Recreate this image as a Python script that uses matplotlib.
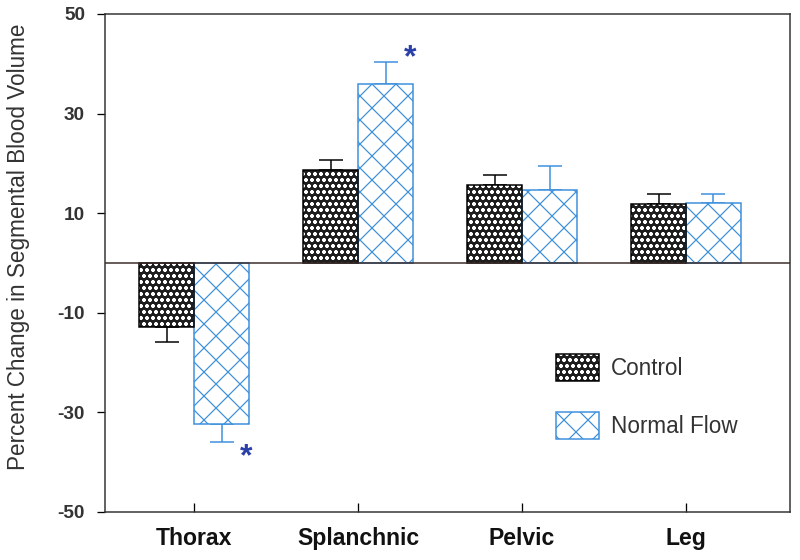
import numpy as np
import matplotlib
matplotlib.use('Agg')
import matplotlib.pyplot as plt

plt.rcParams['font.family'] = ['Liberation Sans', 'DejaVu Sans']
plt.rcParams['hatch.linewidth'] = 1.2
plt.rcParams['axes.unicode_minus'] = False

# data
segments = ['Thorax', 'Splanchnic', 'Pelvic', 'Leg']
control_mean = [-12.8, 18.7, 15.7, 11.8]
control_err = [3.1, 1.9, 2.0, 2.1]
normal_mean = [-32.4, 35.9, 14.7, 12.0]
normal_err = [3.5, 4.4, 4.8, 1.9]
signif_normal = [True, True, False, False]

blue = '#3a8fdc'
dark = '#1e1e1e'

DPI = 72
fig = plt.figure(figsize=(800 / DPI, 560 / DPI), dpi=DPI)
ax = fig.add_axes([105 / 800, 1 - 512 / 560, 685 / 800, 498 / 560])

x = np.arange(len(segments))
w = 0.335


def one_sided(mean, err):
    lo = [e if m < 0 else 0 for m, e in zip(mean, err)]
    hi = [e if m >= 0 else 0 for m, e in zip(mean, err)]
    return [lo, hi]


# control: dark face with white dots, black outline on top
c_fill = ax.bar(x - w / 2, control_mean, w, color=dark, edgecolor='white',
                hatch='oo', linewidth=0, zorder=2)
c_edge = ax.bar(x - w / 2, control_mean, w, fill=False, edgecolor='black',
                linewidth=1.5, zorder=3)
ax.errorbar(x - w / 2, control_mean, yerr=one_sided(control_mean, control_err),
            fmt='none', ecolor='black', elinewidth=1.5, capsize=12, capthick=1.5, zorder=1)

# normal flow: white with blue crosshatch
n_bar = ax.bar(x + w / 2, normal_mean, w, color='white', edgecolor=blue,
               hatch='x', linewidth=1.5, zorder=2)
ax.errorbar(x + w / 2, normal_mean, yerr=one_sided(normal_mean, normal_err),
            fmt='none', ecolor=blue, elinewidth=1.5, capsize=12, capthick=1.5, zorder=1)

# significance stars
for i, s in enumerate(signif_normal):
    if s:
        m, e = normal_mean[i], normal_err[i]
        ypos = m + np.sign(m) * (e + 2.0) - 1.2
        ax.text(x[i] + w / 2 + 0.15, ypos, '*', color='#2b3fa8', fontsize=32,
                fontweight='bold', ha='center', va='center')

ax.axhline(0, color='#3b2a28', linewidth=1.5, zorder=4)

ax.set_xlim(-0.543, 3.634)
ax.set_ylim(-50, 50)
ax.set_yticks([-50, -30, -10, 10, 30, 50])
ax.set_xticks(x)
ax.set_xticklabels(segments, fontweight='bold', fontsize=23, color='#111111')
ax.tick_params(axis='y', direction='out', length=8, width=1.3, labelsize=19,
               labelcolor='#333333', pad=12)
ax.tick_params(axis='x', direction='in', length=9, width=1.3, pad=15)
for lbl in ax.get_yticklabels():
    lbl.set_fontweight('bold')
for sp in ax.spines.values():
    sp.set_color('#333333')
    sp.set_linewidth(1.5)

ax.set_ylabel('Percent Change in Segmental Blood Volume', fontsize=22.5,
              color='#333333')
ax.yaxis.set_label_coords(-0.11, 0.532)

leg = ax.legend([(c_fill[0], c_edge[0]), n_bar[0]], ['Control', 'Normal Flow'],
                loc='upper left', bbox_to_anchor=(0.645, 0.336), frameon=False,
                fontsize=22.5, handlelength=1.9, handleheight=1.5,
                labelspacing=1.37, handletextpad=0.55, borderaxespad=0)
for t in leg.get_texts():
    t.set_color('#333333')

fig.savefig('out.png', dpi=DPI)
